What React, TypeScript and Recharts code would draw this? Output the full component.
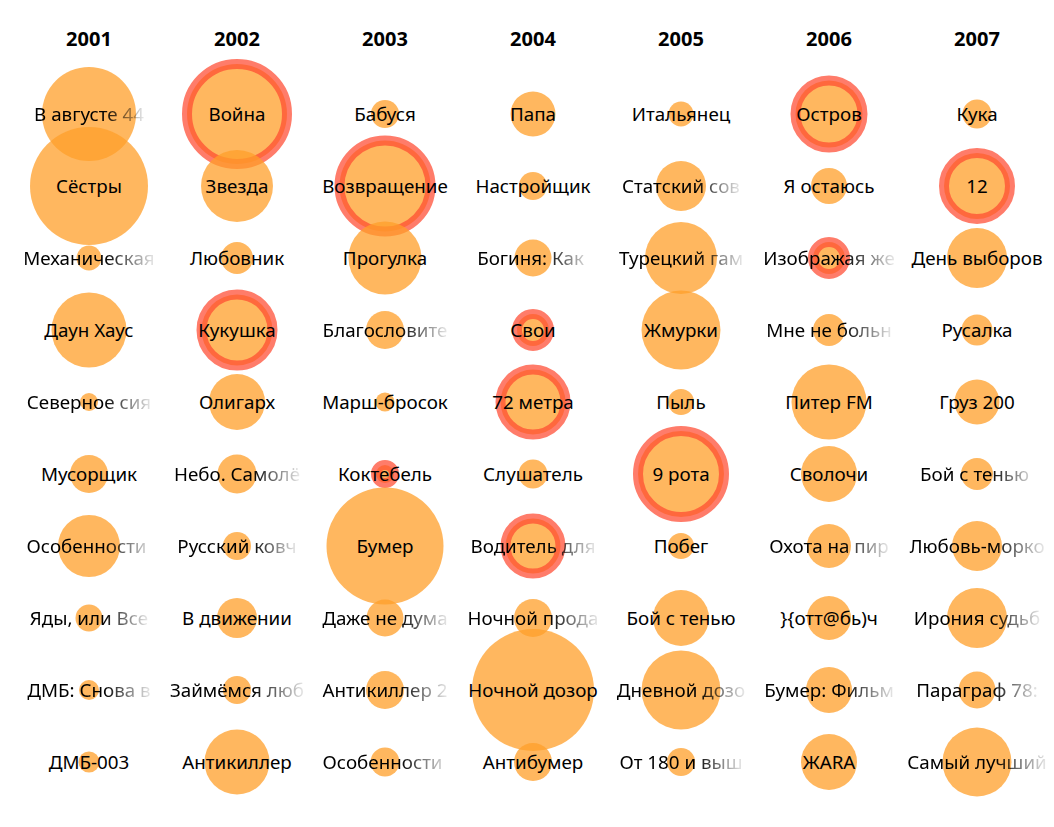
import { Scatter, ScatterChart, XAxis, YAxis, ZAxis } from "recharts";

const years = [2001, 2002, 2003, 2004, 2005, 2006, 2007];

const films2001 = ["В августе 44-го", "Сёстры", "Механическая сюита", "Даун Хаус", "Северное сияние", "Мусорщик", "Особенности национальной охоты", "Яды, или Всемирная история отравлений", "ДМБ: Снова в бою", "ДМБ-003"];
const films2002 = ["Война", "Звезда", "Любовник", "Кукушка", "Олигарх", "Небо. Самолёт. Девушка", "Русский ковчег", "В движении", "Займёмся любовью", "Антикиллер"];
const films2003 = ["Бабуся", "Возвращение", "Прогулка", "Благословите женщину", "Марш-бросок", "Коктебель", "Бумер", "Даже не думай!", "Антикиллер 2: Антитеррор", "Особенности банного сезона"];
const films2004 = ["Папа", "Настройщик", "Богиня: Как я полюбила", "Свои", "72 метра", "Слушатель", "Водитель для Веры", "Ночной продавец", "Ночной дозор", "Антибумер"];
const films2005 = ["Итальянец", "Статский советник", "Турецкий гамбит", "Жмурки", "Пыль", "9 рота", "Побег", "Бой с тенью", "Дневной дозор", "От 180 и выше"];
const films2006 = ["Остров", "Я остаюсь", "Изображая жертву", "Мне не больно", "Питер FM", "Сволочи", "Охота на пиранью", "}{отт@бь)ч", "Бумер: Фильм второй", "ЖАRA"];
const films2007 = ["Кука", "12", "День выборов", "Русалка", "Груз 200", "Бой с тенью 2: Реванш", "Любовь-морковь", "Ирония судьбы. Продолжение", "Параграф 78: Фильм первый", "Самый лучший фильм"];

// circle area is proportional to these
const audience2001 = [2209, 3481, 156, 1406, 81, 361, 961, 182, 100, 110];
const audience2002 = [2500, 1296, 256, 1260, 784, 380, 196, 400, 196, 1056];
const audience2003 = [196, 2070, 1332, 361, 90, 81, 3422, 342, 361, 210];
const audience2004 = [506, 196, 342, 256, 1056, 210, 756, 361, 3721, 361];
const audience2005 = [156, 625, 1296, 1560, 169, 1849, 169, 784, 1560, 196];
const audience2006 = [1122, 324, 256, 256, 1406, 784, 484, 484, 529, 784];
const audience2007 = [210, 1089, 900, 240, 506, 256, 625, 900, 342, 1190];

const awarded = ["Война", "Кукушка", "Возвращение", "Коктебель", "Свои", "72 метра", "Водитель для Веры", "9 рота", "Остров", "Изображая жертву", "12"];

const films = [films2001, films2002, films2003, films2004, films2005, films2006, films2007];
const audience = [audience2001, audience2002, audience2003, audience2004, audience2005, audience2006, audience2007];

const MAX_CHARS = 12;
const FONT = "'Noto Sans', sans-serif";

const points = films.flatMap((list, col) =>
  list.map((title, row) => ({
    col,
    row,
    z: audience[col][row],
    title,
    award: awarded.includes(title),
  }))
);

const maxZ = Math.max(...audience.flat());
const MAX_R = 61;

function FilmCircle(props: any) {
  const { cx, cy, width, payload } = props;
  return (
    <circle
      cx={cx}
      cy={cy}
      r={width / 2}
      fill="#ff9f2a"
      fillOpacity={0.75}
      stroke={payload.award ? "#ff4a30" : "none"}
      strokeOpacity={0.72}
      strokeWidth={payload.award ? 10 : 0}
    />
  );
}

function FilmLabel(props: any) {
  const { cx, cy, payload } = props;
  const long = payload.title.length > MAX_CHARS;
  const text = long ? payload.title.slice(0, MAX_CHARS) : payload.title;
  return (
    <text
      x={cx}
      y={cy}
      textAnchor="middle"
      dominantBaseline="central"
      fontFamily={FONT}
      fontSize={18.8}
      fill="#000"
      mask={long ? "url(#fade)" : undefined}
      style={{ whiteSpace: "pre" }}
    >
      {text}
    </text>
  );
}

function YearTick(props: any) {
  const { x, payload } = props;
  return (
    <text x={x} y={38} textAnchor="middle" dominantBaseline="central" fontFamily={FONT} fontSize={20} fontWeight={700} fill="#000">
      {years[payload.value]}
    </text>
  );
}

export default function App() {
  return (
    <div style={{ position: "absolute", left: 0, top: 0, background: "#fff" }}>
      <ScatterChart width={1054} height={827} margin={{ top: 0, right: 3, bottom: 29, left: 15 }}>
        <defs>
          <linearGradient id="fadeGrad" x1="0" x2="1" y1="0" y2="0">
            <stop offset="0" stopColor="#fff" />
            <stop offset="0.62" stopColor="#fff" />
            <stop offset="1" stopColor="#141414" />
          </linearGradient>
          <mask id="fade" maskContentUnits="objectBoundingBox">
            <rect x={0} y={0} width={1} height={1} fill="url(#fadeGrad)" />
          </mask>
        </defs>
        <XAxis
          type="number"
          dataKey="col"
          orientation="top"
          domain={[-0.5, 6.5]}
          ticks={[0, 1, 2, 3, 4, 5, 6]}
          interval={0}
          height={78}
          axisLine={false}
          tickLine={false}
          tick={<YearTick />}
        />
        <YAxis type="number" dataKey="row" domain={[-0.5, 9.5]} reversed hide />
        <ZAxis type="number" dataKey="z" domain={[0, maxZ]} range={[0, Math.PI * MAX_R * MAX_R]} />
        <Scatter data={points} shape={<FilmCircle />} isAnimationActive={false} />
        <Scatter data={points} shape={<FilmLabel />} isAnimationActive={false} />
      </ScatterChart>
    </div>
  );
}
